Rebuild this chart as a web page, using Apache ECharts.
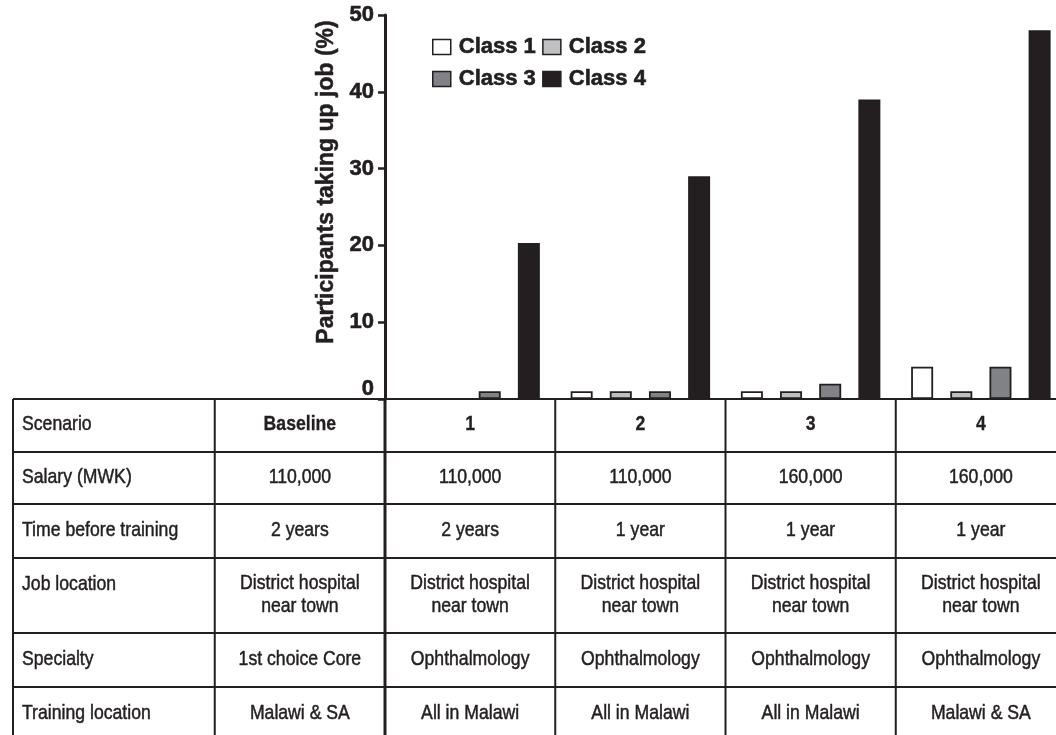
<!DOCTYPE html>
<html>
<head>
<meta charset="utf-8">
<script src="https://cdn.jsdelivr.net/npm/echarts@6/dist/echarts.min.js"></script>
<style>
html,body{margin:0;padding:0;background:#fff;overflow:hidden;width:1056px;height:735px;}
#chart{width:1066px;height:735px;}
</style>
</head>
<body>
<div id="chart"></div>
<script>
// ---- chart data ----
const categories = ['1', '2', '3', '4'];
const seriesNames = ['Class 1', 'Class 2', 'Class 3', 'Class 4'];
const class1 = [0, 1, 1, 4.2];
const class2 = [0, 1, 1, 1];
const class3 = [1, 1, 2, 4.2];
const class4 = [20.3, 29, 39, 48];
const yTickValues = [0, 10, 20, 30, 40, 50];

// ---- table data ----
const rowLabels = ['Scenario', 'Salary (MWK)', 'Time before training', 'Job location', 'Specialty', 'Training location'];
const scenarioRow = ['Baseline', '1', '2', '3', '4'];
const salaryRow = ['110,000', '110,000', '110,000', '160,000', '160,000'];
const timeRow = ['2 years', '2 years', '1 year', '1 year', '1 year'];
const jobLocationRow = ['District hospital\nnear town', 'District hospital\nnear town', 'District hospital\nnear town', 'District hospital\nnear town', 'District hospital\nnear town'];
const specialtyRow = ['1st choice Core', 'Ophthalmology', 'Ophthalmology', 'Ophthalmology', 'Ophthalmology'];
const trainingRow = ['Malawi & SA', 'All in Malawi', 'All in Malawi', 'All in Malawi', 'Malawi & SA'];

const INK = '#231f20';
const colors = ['#ffffff', '#bfc0c2', '#808285', INK];
const seriesData = [class1, class2, class3, class4];
const FONT = '"Liberation Sans", Arial, sans-serif';

const chart = echarts.init(document.getElementById('chart'), null, {renderer: 'canvas'});

const option = {
  animation: false,
  backgroundColor: '#ffffff',
  grid: {left: 385, top: 15, right: 0, height: 384, containLabel: false},
  legend: {
    left: 432, top: 34, width: 215, padding: 0,
    orient: 'horizontal',
    itemWidth: 18, itemHeight: 15, itemGap: 6,
    icon: 'rect',
    data: seriesNames,
    itemStyle: {borderColor: INK, borderWidth: 1.5},
    textStyle: {fontFamily: FONT, fontWeight: 'bold', fontSize: 22, color: INK, lineHeight: 26, padding: [0, 0, 0, 3],
      textBorderColor: INK, textBorderWidth: 0.6}
  },
  xAxis: {
    type: 'category',
    data: categories,
    axisLine: {show: true, lineStyle: {color: INK, width: 2}},
    axisTick: {show: false},
    axisLabel: {show: false},
    splitLine: {show: false}
  },
  yAxis: {
    type: 'value',
    min: 0, max: 50, interval: 10,
    name: 'Participants taking up job (%)',
    nameLocation: 'middle',
    nameGap: 39,
    nameTextStyle: {fontFamily: FONT, fontWeight: 'bold', fontSize: 23, color: INK, padding: [0, 0, 0, 50],
      textBorderColor: INK, textBorderWidth: 0.5},
    axisLine: {show: true, lineStyle: {color: INK, width: 3}},
    axisTick: {show: true, length: 7, lineStyle: {color: INK, width: 2.5}},
    axisLabel: {
      margin: 11,
      fontFamily: FONT, fontWeight: 'bold', fontSize: 22, color: INK,
      textBorderColor: INK, textBorderWidth: 0.6,
      formatter: function (v) { return v === 0 ? '{z|0}' : String(v); },
      rich: {z: {fontFamily: FONT, fontWeight: 'bold', fontSize: 22, color: INK, padding: [0, 0, 20, 0],
        textBorderColor: INK, textBorderWidth: 0.6}}
    },
    splitLine: {show: false}
  },
  series: seriesNames.map(function (name, i) {
    return {
      name: name,
      type: 'bar',
      data: seriesData[i],
      barWidth: 22,
      barGap: '78%',
      itemStyle: {color: colors[i], borderColor: INK, borderWidth: 1.8},
      emphasis: {disabled: true}
    };
  })
};

chart.setOption(option);

// ---- table drawn from chart scales ----
function buildTable() {
  const c0 = chart.convertToPixel({xAxisIndex: 0}, categories[0]);
  const c1 = chart.convertToPixel({xAxisIndex: 0}, categories[1]);
  const band = c1 - c0;
  const axisX = c0 - band / 2;
  const topY = chart.convertToPixel({yAxisIndex: 0}, 0);
  const tableLeft = 13;
  const labelRight = axisX - band; // baseline column sits one band left of the axis
  const colLefts = [labelRight];
  for (let k = 0; k < categories.length; k++) colLefts.push(axisX + k * band);
  const rowHeights = [53, 52, 54, 75, 54, 54];
  const rows = [scenarioRow, salaryRow, timeRow, jobLocationRow, specialtyRow, trainingRow];
  const W = chart.getWidth();
  const els = [];
  const sx = 0.84;
  let y = topY;
  const rowTops = [];
  for (let r = 0; r < rowHeights.length; r++) {
    rowTops.push(y);
    els.push({type: 'line', silent: true, z: 10, shape: {x1: tableLeft, y1: y, x2: W + 10, y2: y}, style: {stroke: INK, lineWidth: 2}});
    y += rowHeights[r];
  }
  const bottom = y;
  const vx = [tableLeft].concat(colLefts);
  vx.forEach(function (x, i) {
    els.push({type: 'line', silent: true, z: 10, shape: {x1: x, y1: topY, x2: x, y2: bottom}, style: {stroke: INK, lineWidth: i === 2 ? 3 : 2}});
  });
  for (let r = 0; r < rows.length; r++) {
    const h = rowHeights[r];
    const cy = rowTops[r] + h / 2;
    const twoLine = rows[r].some(function (t) { return t.indexOf('\n') >= 0; });
    const labelY = twoLine ? cy - 11 : cy - 1;
    els.push({
      type: 'text', silent: true, z: 11, x: tableLeft + 9, y: labelY, scaleX: sx,
      style: {text: rowLabels[r], x: 0, y: 0, fill: INK, stroke: INK, lineWidth: 0.5, fontSize: 21, fontFamily: FONT, align: 'left', verticalAlign: 'middle'}
    });
    for (let c = 0; c < rows[r].length; c++) {
      const cx = colLefts[c] + band / 2;
      els.push({
        type: 'text', silent: true, z: 11, x: cx, y: cy - 1, scaleX: sx,
        style: {text: rows[r][c], x: 0, y: 0, fill: INK, stroke: INK, lineWidth: r === 0 ? 0.3 : 0.5, fontSize: 21, fontFamily: FONT,
          fontWeight: r === 0 ? 'bold' : 'normal', align: 'center', verticalAlign: 'middle', lineHeight: 23}
      });
    }
  }
  chart.setOption({graphic: {elements: els}});
}
buildTable();
</script>
</body>
</html>
